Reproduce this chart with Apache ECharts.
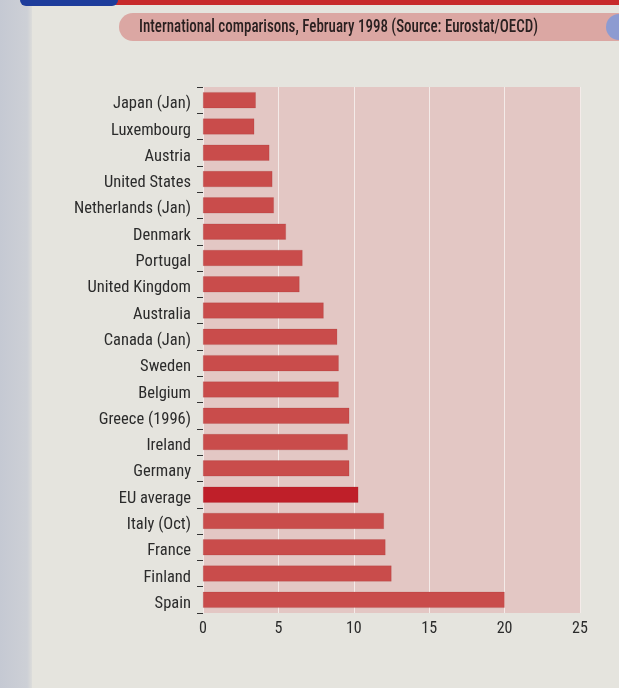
<!DOCTYPE html>
<html>
<head>
<meta charset="utf-8">
<script src="https://cdn.jsdelivr.net/npm/echarts@6/dist/echarts.min.js"></script>
<style>
  html, body { margin: 0; padding: 0; background: #e5e4de; }
  #chart { width: 619px; height: 688px; }
</style>
</head>
<body>
<div id="chart"></div>
<script>
// Unemployment rates, February 1998 (per cent of labour force)
const countries = [
  'Japan (Jan)', 'Luxembourg', 'Austria', 'United States', 'Netherlands (Jan)',
  'Denmark', 'Portugal', 'United Kingdom', 'Australia', 'Canada (Jan)',
  'Sweden', 'Belgium', 'Greece (1996)', 'Ireland', 'Germany',
  'EU average', 'Italy (Oct)', 'France', 'Finland', 'Spain'
];
const rates = [
  3.5, 3.4, 4.4, 4.6, 4.7,
  5.5, 6.6, 6.4, 8.0, 8.9,
  9.0, 9.0, 9.7, 9.6, 9.7,
  10.3, 12.0, 12.1, 12.5, 20.0
];
const highlight = 'EU average';
const xTicks = [0, 5, 10, 15, 20, 25];

const title = 'International comparisons, February 1998 (Source: Eurostat/OECD)';
const FONT = '"Roboto Condensed", "DejaVu Sans Condensed", sans-serif';

const chart = echarts.init(document.getElementById('chart'), null, { renderer: 'canvas' });

const barData = countries.map((c, i) => ({
  value: rates[i],
  itemStyle: { color: c === highlight ? '#bf1f29' : '#c94c4b' }
}));

chart.setOption({
  backgroundColor: '#e5e4de',
  animation: false,
  graphic: [
    // left margin shading
    {
      type: 'rect', shape: { x: 0, y: 0, width: 32, height: 688 },
      style: {
        fill: new echarts.graphic.LinearGradient(0, 0, 1, 0, [
          { offset: 0, color: '#c5c9d3' }, { offset: 0.85, color: '#cdd0d6' }, { offset: 1, color: '#dcdcda' }
        ])
      }, z: 0
    },
    // header strip
    { type: 'rect', shape: { x: 116, y: 0, width: 503, height: 5 }, style: { fill: '#c72a2b' } },
    { type: 'rect', shape: { x: 20, y: -6, width: 98, height: 12, r: 6 }, style: { fill: '#1d3c9b' } },
    // title banner
    { type: 'rect', shape: { x: 119, y: 13, width: 520, height: 28, r: 14 }, style: { fill: '#dba7a3' } },
    { type: 'circle', shape: { cx: 619, cy: 27, r: 13 }, style: { fill: '#8d9bd1' } },
    {
      type: 'text', x: 139, y: 27, scaleX: 0.79,
      style: {
        text: title, fill: '#2a2020', verticalAlign: 'middle',
        font: '500 19px ' + FONT
      }
    }
  ],
  grid: {
    left: 203, right: 39, top: 87, bottom: 75,
    show: true, backgroundColor: '#e3c7c4', borderWidth: 0
  },
  xAxis: {
    type: 'value', min: 0, max: 25, interval: 5,
    axisLine: { show: false },
    axisTick: { show: false },
    splitLine: { show: true, lineStyle: { color: '#f4ebe9', width: 1 } },
    axisLabel: {
      margin: 8,
      color: '#2b2b2b',
      fontFamily: FONT,
      fontSize: 16,
      formatter: v => xTicks.includes(v) ? String(v) : ''
    }
  },
  yAxis: {
    type: 'category', data: countries, inverse: true,
    offset: 2,
    axisLine: { show: false },
    axisTick: { show: true, length: 6, lineStyle: { color: '#333', width: 1 } },
    axisLabel: {
      margin: 10,
      formatter: v => '{c|' + v + '}',
      rich: {
        c: {
          color: '#2b2b2b',
          fontFamily: FONT,
          fontSize: 16.5,
          padding: [8, 0, 0, 0]
        }
      }
    }
  },
  series: [{
    type: 'bar',
    data: barData,
    barWidth: 16,
    itemStyle: { borderColor: 'rgba(150,40,40,0.35)', borderWidth: 0.5 }
  }]
});
</script>
</body>
</html>
